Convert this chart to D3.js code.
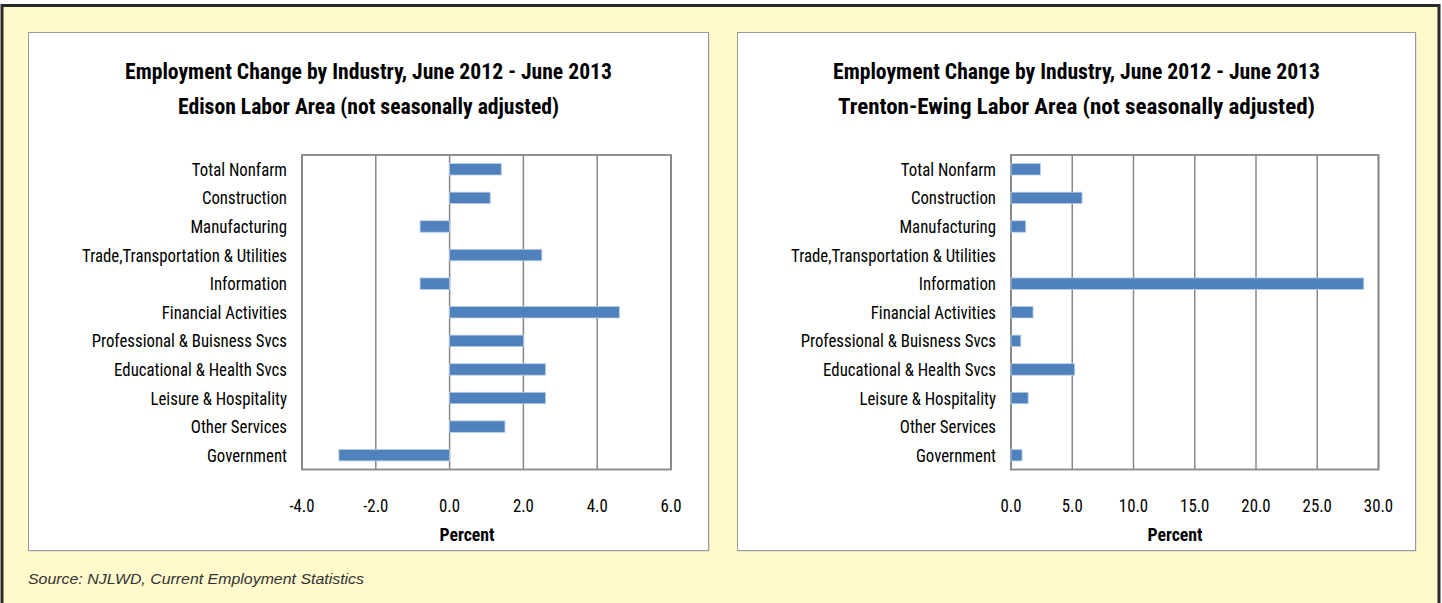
<!DOCTYPE html>
<html><head><meta charset="utf-8">
<script src="https://cdn.jsdelivr.net/npm/d3@7"></script>
<style>
html,body{margin:0;padding:0;background:#fff;overflow:hidden;}
svg{display:block;}
</style></head>
<body>
<svg id="c" width="1442" height="603"></svg>
<script>
// ---- data ----
const categories = ["Total Nonfarm","Construction","Manufacturing","Trade,Transportation & Utilities","Information","Financial Activities","Professional & Buisness Svcs","Educational & Health Svcs","Leisure & Hospitality","Other Services","Government"];
const edisonValues = [1.4, 1.1, -0.8, 2.5, -0.8, 4.6, 2.0, 2.6, 2.6, 1.5, -3.0];
const trentonValues = [2.4, 5.8, 1.2, 0.0, 28.8, 1.8, 0.8, 5.2, 1.4, 0.0, 0.9];
const edisonTicks = [-4, -2, 0, 2, 4, 6];
const trentonTicks = [0, 5, 10, 15, 20, 25, 30];
const titleLine1 = "Employment Change by Industry, June 2012 - June 2013";
const edisonTitle2 = "Edison Labor Area (not seasonally adjusted)";
const trentonTitle2 = "Trenton-Ewing Labor Area (not seasonally adjusted)";
const axisTitle = "Percent";
const sourceText = "Source: NJLWD, Current Employment Statistics";

const FONT = "'Liberation Sans Narrow','Roboto Condensed','Arial Narrow','Open Sans',sans-serif";
const svg = d3.select("#c");

// background frame
svg.append("rect").attr("x",0).attr("y",0).attr("width",1442).attr("height",603).attr("fill","#fff");
svg.append("rect").attr("x",2).attr("y",5.5).attr("width",1437).attr("height",610)
  .attr("fill","#FFF9CC").attr("stroke","#2a2a2a").attr("stroke-width",3);

function fit(sel, w){
  const n = sel.node();
  const m = n.getComputedTextLength();
  if (m > 0) sel.attr("textLength", w).attr("lengthAdjust","spacingAndGlyphs");
}
function squeeze(sel, k){
  sel.each(function(){
    const m = this.getComputedTextLength();
    d3.select(this).attr("textLength", m*k).attr("lengthAdjust","spacingAndGlyphs");
  });
}
const fmt = d => d3.format(".1f")(d).replace("\u2212","-");

function panel(cfg){
  const g = svg.append("g");
  // panel box
  g.append("rect").attr("x",cfg.px+1).attr("y",cfg.py+1).attr("width",cfg.pw).attr("height",cfg.ph)
    .attr("fill","#d0d0d0");
  g.append("rect").attr("x",cfg.px).attr("y",cfg.py).attr("width",cfg.pw).attr("height",cfg.ph)
    .attr("fill","#fff").attr("stroke","#9a9a9a").attr("stroke-width",1);

  const cx = cfg.px + cfg.pw/2;
  const t1 = g.append("text").attr("x",cx).attr("y",79).attr("text-anchor","middle")
    .attr("font-family",FONT).attr("font-weight","bold").attr("font-size",22).attr("fill","#000").text(titleLine1);
  fit(t1, 487);
  const t2 = g.append("text").attr("x",cx).attr("y",114).attr("text-anchor","middle")
    .attr("font-family",FONT).attr("font-weight","bold").attr("font-size",22).attr("fill","#000").text(cfg.title2);
  fit(t2, cfg.t2w);

  const x = d3.scaleLinear().domain(cfg.domain).range([cfg.x0, cfg.x1]);
  const y = d3.scaleBand().domain(categories).range([155, 469.5]).paddingInner(0.6).paddingOuter(0.3);

  // grid
  g.append("g").selectAll("line").data(cfg.ticks).join("line")
    .attr("x1",d=>x(d)).attr("x2",d=>x(d)).attr("y1",155).attr("y2",469.5)
    .attr("stroke","#878787").attr("stroke-width",1.5);
  // plot border
  g.append("rect").attr("x",cfg.x0).attr("y",155).attr("width",cfg.x1-cfg.x0).attr("height",314.5)
    .attr("fill","none").attr("stroke","#878787").attr("stroke-width",1.8);

  // bars
  g.append("g").selectAll("rect").data(categories.map((c,i)=>({c, v:cfg.values[i]}))).join("rect")
    .attr("x",d=>x(Math.min(0,d.v))).attr("width",d=>Math.abs(x(d.v)-x(0)))
    .attr("y",d=>y(d.c)).attr("height",y.bandwidth())
    .attr("fill","#4F81BD").attr("stroke",d=>d.v===0?"none":"#B9CDE5").attr("stroke-width",0.8);

  // category labels
  const bw = y.bandwidth();
  const labs = g.append("g").selectAll("text").data(categories).join("text")
    .attr("x",cfg.labelX).attr("y",d=>y(d)+bw/2+6.5).attr("text-anchor","end")
    .attr("font-family",FONT).attr("font-size",17.5).attr("fill","#000").text(d=>d);
  let longest = 0; labs.each(function(){ longest = Math.max(longest, this.getComputedTextLength()); });
  squeeze(labs, 205/longest);

  // tick labels
  const tl = g.append("g").selectAll("text").data(cfg.ticks).join("text")
    .attr("x",d=>x(d)).attr("y",511.5).attr("text-anchor","middle")
    .attr("font-family",FONT).attr("font-size",17.5).attr("fill","#000").text(fmt);
  squeeze(tl, 205/longest);

  const at = g.append("text").attr("x",cfg.ptX).attr("y",541).attr("text-anchor","middle")
    .attr("font-family",FONT).attr("font-weight","bold").attr("font-size",18.5).attr("fill","#000").text(axisTitle);
  fit(at, 55);
}

panel({px:28.5, py:32.5, pw:680, ph:518, title2:edisonTitle2, t2w:381, domain:[-4,6], ticks:edisonTicks,
  values:edisonValues, x0:302, x1:671, labelX:287, ptX:467});
panel({px:737.5, py:32.5, pw:678, ph:518, title2:trentonTitle2, t2w:477, domain:[0,30], ticks:trentonTicks,
  values:trentonValues, x0:1011, x1:1378.5, labelX:996, ptX:1175});

const src = svg.append("text").attr("x",28).attr("y",583.5)
  .attr("font-family","'Liberation Sans',Arial,sans-serif").attr("font-style","italic")
  .attr("font-size",14).attr("fill","#333").text(sourceText);
fit(src, 336);
</script>
</body></html>
